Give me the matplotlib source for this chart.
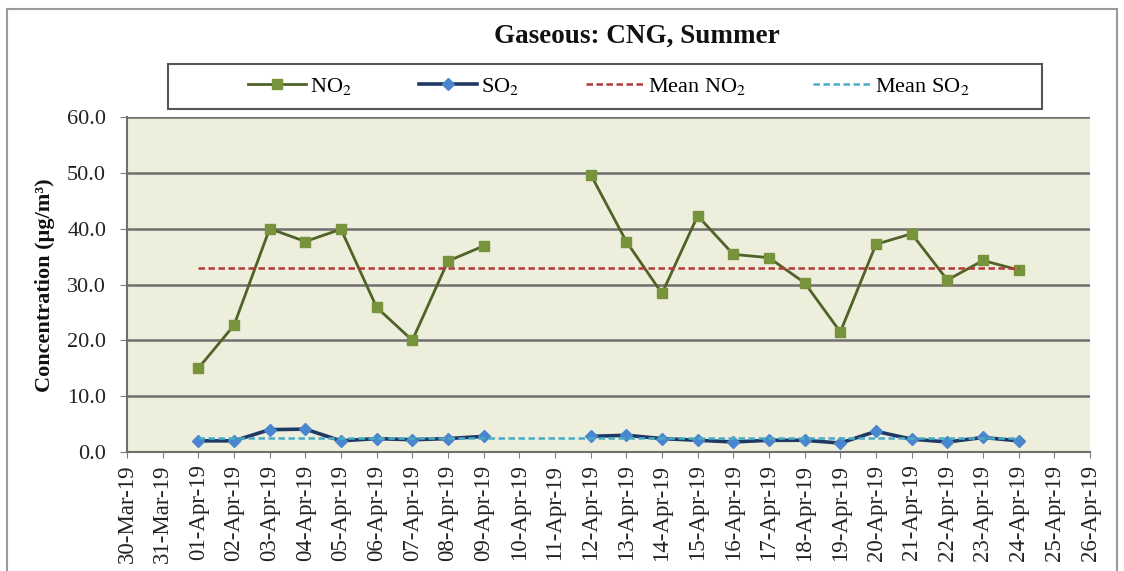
import numpy as np
import pandas as pd
import matplotlib
matplotlib.use("Agg")
import matplotlib.pyplot as plt
import matplotlib.dates as mdates
from matplotlib.patches import Rectangle
from matplotlib.lines import Line2D

plt.rcParams['font.family'] = ['Liberation Serif', 'DejaVu Serif']
plt.rcParams['mathtext.fontset'] = 'stix'

# ---- data ----
dates = ["2019-04-01", "2019-04-02", "2019-04-03", "2019-04-04", "2019-04-05",
         "2019-04-06", "2019-04-07", "2019-04-08", "2019-04-09", "2019-04-10",
         "2019-04-11", "2019-04-12", "2019-04-13", "2019-04-14", "2019-04-15",
         "2019-04-16", "2019-04-17", "2019-04-18", "2019-04-19", "2019-04-20",
         "2019-04-21", "2019-04-22", "2019-04-23", "2019-04-24"]
no2 = [15.0, 22.7, 40.0, 37.7, 39.9, 25.9, 20.0, 34.2, 36.9, np.nan,
       np.nan, 49.7, 37.7, 28.4, 42.3, 35.4, 34.8, 30.3, 21.5, 37.2,
       39.1, 30.8, 34.3, 32.6]
so2 = [2.0, 2.0, 4.0, 4.1, 2.0, 2.4, 2.2, 2.4, 2.8, np.nan,
       np.nan, 2.8, 3.0, 2.4, 2.1, 1.8, 2.1, 2.1, 1.6, 3.7,
       2.3, 1.8, 2.6, 2.0]
mean_no2 = 32.9
mean_so2 = 2.5
x_start, x_end = "2019-03-30", "2019-04-26"
yticks = [0, 10, 20, 30, 40, 50, 60]

title = "Gaseous: CNG, Summer"
ylabel = "Concentration (\u00b5g/m\u00b3)"
labels = ["NO$_2$", "SO$_2$", "Mean NO$_2$", "Mean SO$_2$"]

# ---- figure ----
W, H = 1124, 571
fig = plt.figure(figsize=(W / 100, H / 100), dpi=100)
fig.patch.set_facecolor('white')

def fx(px):
    return px / W

def fy(py):
    return 1 - py / H

ax = fig.add_axes([fx(127), fy(452), fx(1090) - fx(127), fy(117) - fy(452)])
ax.set_facecolor('#EEEEDC')

d = pd.to_datetime(dates)
mean_dates = pd.to_datetime([dates[0], dates[-1]])

c_no2_line = '#4F6228'
c_no2_mk = '#77933C'
c_so2_line = '#1F3864'
c_so2_mk = '#4A86CF'
c_mno2 = '#B03A3A'
c_mso2 = '#4BACC6'
dash = (0, (2.6, 1.4))

ax.plot(d, no2, color=c_no2_line, lw=2.0, marker='s', ms=6.5,
        mfc=c_no2_mk, mec=c_no2_mk, zorder=3)
ax.plot(d, so2, color=c_so2_line, lw=2.6, marker='D', ms=6.5,
        mfc=c_so2_mk, mec=c_so2_mk, zorder=4)
ax.plot(mean_dates, [mean_no2, mean_no2], color=c_mno2, lw=1.8,
        ls=dash, zorder=5)
ax.plot(mean_dates, [mean_so2, mean_so2], color=c_mso2, lw=1.8,
        ls=dash, zorder=5)

ax.set_xlim(pd.Timestamp(x_start), pd.Timestamp(x_end))
ax.set_ylim(yticks[0], yticks[-1])
ax.set_yticks(yticks)
ax.yaxis.set_major_formatter(matplotlib.ticker.FormatStrFormatter('%.1f'))
ax.xaxis.set_major_locator(mdates.DayLocator())
ax.xaxis.set_major_formatter(mdates.DateFormatter('%d-%b-%y'))

ax.grid(axis='y', color='#6F6F6F', lw=1.8, zorder=1)
ax.set_axisbelow(True)
for s in ['top', 'right']:
    ax.spines[s].set_visible(False)
for s in ['left', 'bottom']:
    ax.spines[s].set_color('#6E6E6E')
    ax.spines[s].set_linewidth(1.5)

ax.tick_params(axis='y', labelsize=16, length=5, color='#7F7F7F', pad=10)
ax.tick_params(axis='x', labelsize=16.5, length=4, color='#7F7F7F', pad=5,
               labelrotation=90)
for lab in ax.get_yticklabels() + ax.get_xticklabels():
    lab.set_color('#222222')

fig.text(fx(45), fy(285), ylabel, rotation=90, ha='center', va='center',
         fontsize=16, fontweight='bold', color='#111111')
fig.text(fx(637), fy(36), title, ha='center', va='center',
         fontsize=19.5, fontweight='bold', color='#111111')

# chart-area border
fig.patches.append(Rectangle((fx(7), -0.05), fx(1117) - fx(7), fy(9) + 0.05,
                             transform=fig.transFigure, fill=False,
                             ec='#9A9A9A', lw=1.5, zorder=0))
# legend box
fig.patches.append(Rectangle((fx(168), fy(109)), fx(1042) - fx(168),
                             fy(64) - fy(109), transform=fig.transFigure,
                             fill=True, fc='white', ec='#555555', lw=1.5,
                             zorder=1))

handles = [
    Line2D([], [], color=c_no2_line, lw=2.0, marker='s', ms=6.5,
           mfc=c_no2_mk, mec=c_no2_mk),
    Line2D([], [], color=c_so2_line, lw=2.6, marker='D', ms=6.5,
           mfc=c_so2_mk, mec=c_so2_mk),
    Line2D([], [], color=c_mno2, lw=1.8, ls=dash),
    Line2D([], [], color=c_mso2, lw=1.8, ls=dash),
]
leg = fig.legend(handles, labels, loc='center', ncol=4, frameon=False,
                 bbox_to_anchor=(fx(609), fy(86.5)), fontsize=16,
                 handlelength=2.6, handletextpad=0.2, columnspacing=3.0,
                 numpoints=1)
leg.set_zorder(2)

fig.savefig("out.png", dpi=100)
